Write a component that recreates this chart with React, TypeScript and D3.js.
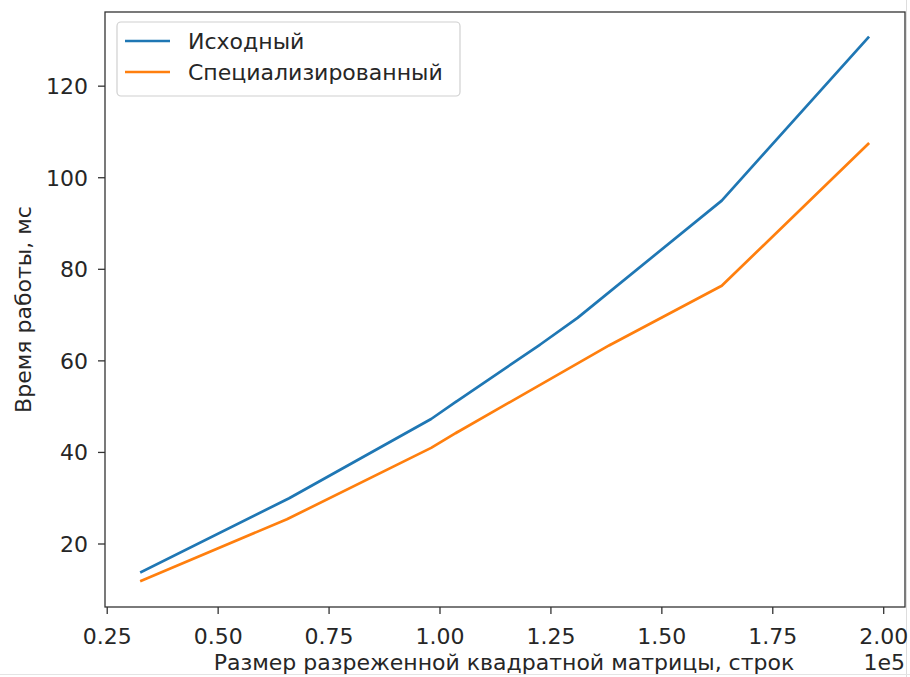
import React from 'react'
import * as d3 from 'd3'

const width = 910
const height = 677

// matrix size (rows) and time (ms)
const sizesBase = [32700, 66000, 98000, 103800, 103500, 122500, 122200, 131000, 163500, 196500]
const timesBase = [13.9, 30.0, 47.3, 51.2, 51.0, 63.5, 63.3, 69.4, 95.0, 130.6]
const sizesSpec = [32700, 65500, 98000, 103800, 103500, 138500, 138200, 163500, 196500]
const timesSpec = [12.0, 25.4, 41.0, 44.4, 44.2, 63.6, 63.4, 76.4, 107.4]

const seriesNames = ['Исходный', 'Специализированный']
const seriesColors = ['#1f77b4', '#ff7f0e']
const xTicks = [0.25, 0.5, 0.75, 1.0, 1.25, 1.5, 1.75, 2.0]
const yTicks = [20, 40, 60, 80, 100, 120]

const font = 'DejaVu Sans, sans-serif'
const fs = 22
const left = 105, right = 905, top = 12, bottom = 607

export default function App() {
    const x = d3.scaleLinear().domain([24500, 204800]).range([left, right])
    const y = d3.scaleLinear().domain([6.24, 136.2]).range([bottom, top])

    const line = d3.line<[number, number]>()
        .x(d => x(d[0]))
        .y(d => y(d[1]))

    const series = [
        sizesBase.map((s, i) => [s, timesBase[i]] as [number, number]),
        sizesSpec.map((s, i) => [s, timesSpec[i]] as [number, number]),
    ]

    return (
        <div style={{position: 'absolute', left: 0, top: 0}}>
            <svg width={width} height={height} style={{display: 'block', background: '#fff'}}>
                {/* faint picture border */}
                <line x1={906.5} x2={906.5} y1={0} y2={height} stroke="#ddd" />
                <line x1={0} x2={width} y1={674.5} y2={674.5} stroke="#e4e4e4" />

                {series.map((pts, i) => (
                    <path key={i} d={line(pts) || ''} fill="none" stroke={seriesColors[i]}
                        strokeWidth={2.7} strokeLinejoin="round" strokeLinecap="square" />
                ))}

                {/* spines */}
                <rect x={left} y={top} width={right - left} height={bottom - top}
                    fill="none" stroke="#333" strokeWidth={1.3} />

                {xTicks.map(t => (
                    <g key={t} transform={`translate(${x(t * 1e5)},${bottom})`}>
                        <line y2={7} stroke="#333" strokeWidth={1.3} />
                        <text y={37} textAnchor="middle" fontFamily={font} fontSize={fs} fill="#262626">
                            {t.toFixed(2)}
                        </text>
                    </g>
                ))}
                {yTicks.map(t => (
                    <g key={t} transform={`translate(${left},${y(t)})`}>
                        <line x2={-7} stroke="#333" strokeWidth={1.3} />
                        <text x={-17} dy="0.36em" textAnchor="end" fontFamily={font} fontSize={fs} fill="#262626">
                            {t}
                        </text>
                    </g>
                ))}

                <text x={504} y={670} textAnchor="middle" fontFamily={font} fontSize={fs} fill="#262626">
                    Размер разреженной квадратной матрицы, строк
                </text>
                <text x={right} y={670} textAnchor="end" fontFamily={font} fontSize={fs} fill="#262626">1e5</text>
                <text transform={`translate(31,${(top + bottom) / 2}) rotate(-90)`} textAnchor="middle"
                    fontFamily={font} fontSize={fs} fill="#262626">
                    Время работы, мс
                </text>

                {/* legend */}
                <rect x={117} y={22} width={343} height={74} rx={4} fill="#fff" fillOpacity={0.8}
                    stroke="#d0d0d0" strokeWidth={1.2} />
                {seriesNames.map((n, i) => (
                    <g key={n} transform={`translate(0,${41 + i * 31})`}>
                        <line x1={125} x2={170} stroke={seriesColors[i]} strokeWidth={2.7} />
                        <text x={188} dy="0.36em" fontFamily={font} fontSize={fs} fill="#262626">{n}</text>
                    </g>
                ))}
            </svg>
        </div>
    )
}
